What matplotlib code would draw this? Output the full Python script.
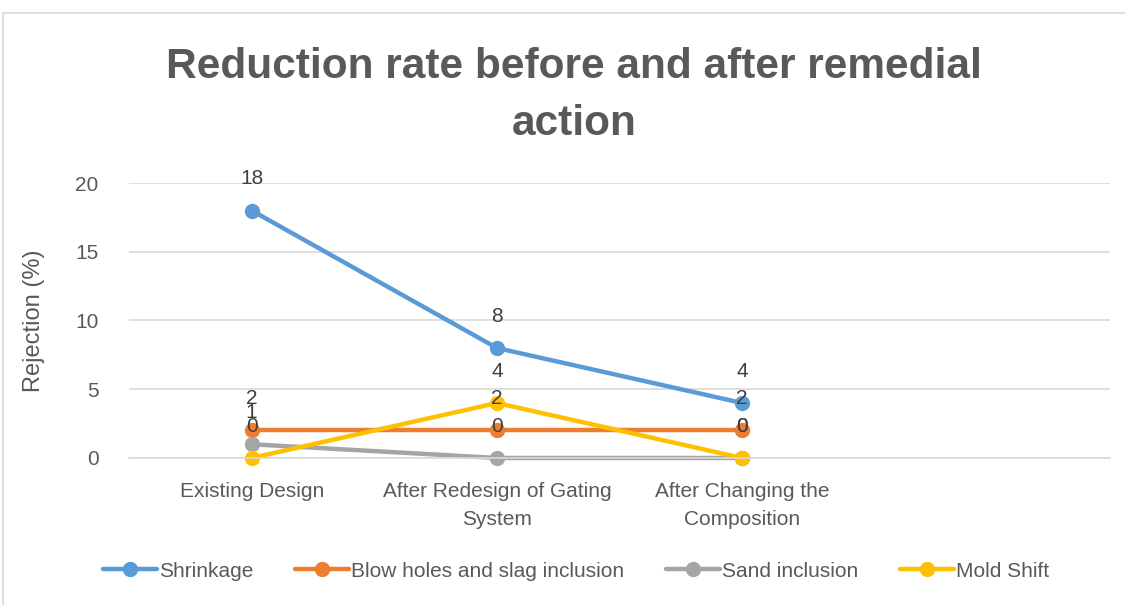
import matplotlib.pyplot as plt
from matplotlib.patches import Rectangle

categories = ["Existing Design", "After Redesign of Gating\nSystem", "After Changing the\nComposition", ""]
shrinkage = [18, 8, 4]
blow_holes = [2, 2, 2]
sand = [1, 0, 0]
mold_shift = [0, 4, 0]

series = [
    ("Shrinkage", shrinkage, "#5B9BD5"),
    ("Blow holes and slag inclusion", blow_holes, "#ED7D31"),
    ("Sand inclusion", sand, "#A5A5A5"),
    ("Mold Shift", mold_shift, "#FFC000"),
]

plt.rcParams["font.family"] = ["Liberation Sans", "DejaVu Sans"]
text_color = "#595959"

fig = plt.figure(figsize=(11.25, 6.05), dpi=100)
ax = fig.add_axes([0.1147, 0.2430, 0.8720, 0.4545])

x = list(range(len(categories)))
for name, vals, col in series:
    ax.plot(x[:len(vals)], vals, color=col, lw=3.2, marker="o", ms=10, label=name,
            solid_capstyle="round")
    for xi, v in zip(x, vals):
        ax.annotate(str(v), (xi, v), xytext=(0, 23), textcoords="offset points",
                    ha="center", va="center", fontsize=15, color="#404040")

ax.set_xlim(-0.5, len(categories) - 0.5)
ax.set_ylim(0, 20)
ax.set_yticks([0, 5, 10, 15, 20])
ax.set_xticks(x)
ax.set_xticklabels(categories, fontsize=15, color=text_color, linespacing=1.65)
ax.tick_params(axis="y", labelsize=15, labelcolor=text_color, length=0, pad=22)
ax.tick_params(axis="x", length=0, pad=17)
ax.yaxis.grid(True, color="#D9D9D9", lw=1.2)
ax.set_axisbelow(True)
for s in ["top", "right", "left"]:
    ax.spines[s].set_visible(False)
ax.spines["bottom"].set_color("#D9D9D9")
ax.spines["bottom"].set_linewidth(1.2)
for line in ax.lines:
    line.set_clip_on(False)

ax.set_ylabel("Rejection (%)", fontsize=17, color=text_color, labelpad=22)

fig.text(0.51, 0.842, "Reduction rate before and after remedial\naction", ha="center",
         va="center", fontsize=30.5, fontweight="bold", color=text_color, linespacing=1.55)

fig.legend(loc="center", bbox_to_anchor=(0.512, 0.056), ncol=4, frameon=False,
           fontsize=15, labelcolor=text_color, handlelength=2.6, handletextpad=0.1,
           columnspacing=2.0)

fig.patches.append(Rectangle((0.003, -0.1), 1.2, 1.079, transform=fig.transFigure,
                             fill=False, edgecolor="#D9D9D9", lw=1.2))

fig.savefig("out.png", dpi=100)
